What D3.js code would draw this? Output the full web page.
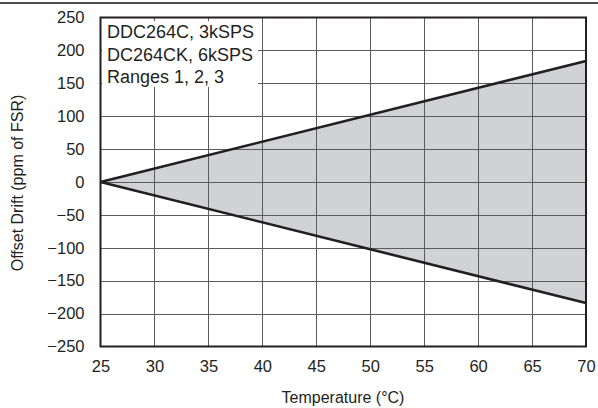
<!DOCTYPE html>
<html><head><meta charset="utf-8">
<script src="https://cdn.jsdelivr.net/npm/d3@7"></script>
<style>body{margin:0;background:#fff}svg{display:block}text{font-family:"Liberation Sans",Arial,sans-serif;fill:#231f20}</style>
</head><body><svg id="c" width="598" height="408"></svg>
<script>
const temps = [25, 70];
const upperDrift = [0, 184];
const lowerDrift = [0, -184];
const xTicks = [25,30,35,40,45,50,55,60,65,70];
const yTicks = [250,200,150,100,50,0,-50,-100,-150,-200,-250];
const legendLines = ["DDC264C, 3kSPS","DC264CK, 6kSPS","Ranges 1, 2, 3"];
const xTitle = "Temperature (°C)";
const yTitle = "Offset Drift (ppm of FSR)";

const svg = d3.select("#c");
const L=100.5,R=586,T=17.5,B=346.5;
const x = d3.scaleLinear().domain([25,70]).range([L,R]);
const y = d3.scaleLinear().domain([-250,250]).range([B,T]);
const fmt = v => v<0 ? "\u2212"+Math.abs(v) : String(v);

svg.append("line").attr("x1",0).attr("x2",598).attr("y1",3).attr("y2",3).attr("stroke","#111").attr("stroke-width",1.5);

const data = temps.map((t,i)=>({t,u:upperDrift[i],l:lowerDrift[i]}));
svg.append("path").datum(data)
  .attr("d", d3.area().x(d=>x(d.t)).y0(d=>y(d.l)).y1(d=>y(d.u)))
  .attr("fill","#d1d2d4");

// grid
svg.append("g").selectAll("line").data(xTicks.slice(1,-1)).join("line")
  .attr("x1",d=>Math.round(x(d))+0.5).attr("x2",d=>Math.round(x(d))+0.5).attr("y1",T).attr("y2",B)
  .attr("stroke","#5a5b5d").attr("stroke-width",1);
svg.append("g").selectAll("line").data(yTicks.slice(1,-1)).join("line")
  .attr("y1",d=>Math.round(y(d))+0.5).attr("y2",d=>Math.round(y(d))+0.5).attr("x1",L).attr("x2",R)
  .attr("stroke","#5a5b5d").attr("stroke-width",1);

// lines
svg.append("path").datum(data).attr("d",d3.line().x(d=>x(d.t)).y(d=>y(d.u)))
  .attr("fill","none").attr("stroke","#231f20").attr("stroke-width",2.6);
svg.append("path").datum(data).attr("d",d3.line().x(d=>x(d.t)).y(d=>y(d.l)))
  .attr("fill","none").attr("stroke","#231f20").attr("stroke-width",2.6);

// legend box
svg.append("rect").attr("x",L+1.5).attr("y",21).attr("width",156).attr("height",66).attr("fill","#fff");
svg.append("g").selectAll("text").data(legendLines).join("text")
  .attr("x",107).attr("y",(d,i)=>38+i*22.5).attr("font-size",18).text(d=>d);

// frame
svg.append("rect").attr("x",L).attr("y",T).attr("width",R-L).attr("height",B-T)
  .attr("fill","none").attr("stroke","#231f20").attr("stroke-width",2);

// axes
const xa = svg.append("g").attr("transform",`translate(0,${B})`)
  .call(d3.axisBottom(x).tickValues(xTicks).tickSize(0).tickPadding(14));
const ya = svg.append("g").attr("transform",`translate(${L},0)`)
  .call(d3.axisLeft(y).tickValues(yTicks).tickFormat(fmt).tickSize(0).tickPadding(16));
[xa,ya].forEach(g=>{g.select(".domain").remove();g.selectAll("text").attr("font-size",16.5).attr("font-family","Liberation Sans, Arial, sans-serif").attr("fill","#231f20");});

svg.append("text").attr("x",343).attr("y",403).attr("text-anchor","middle").attr("font-size",16).text(xTitle);
svg.append("text").attr("transform","translate(23,183) rotate(-90)").attr("text-anchor","middle").attr("font-size",16).text(yTitle);
</script></body></html>
